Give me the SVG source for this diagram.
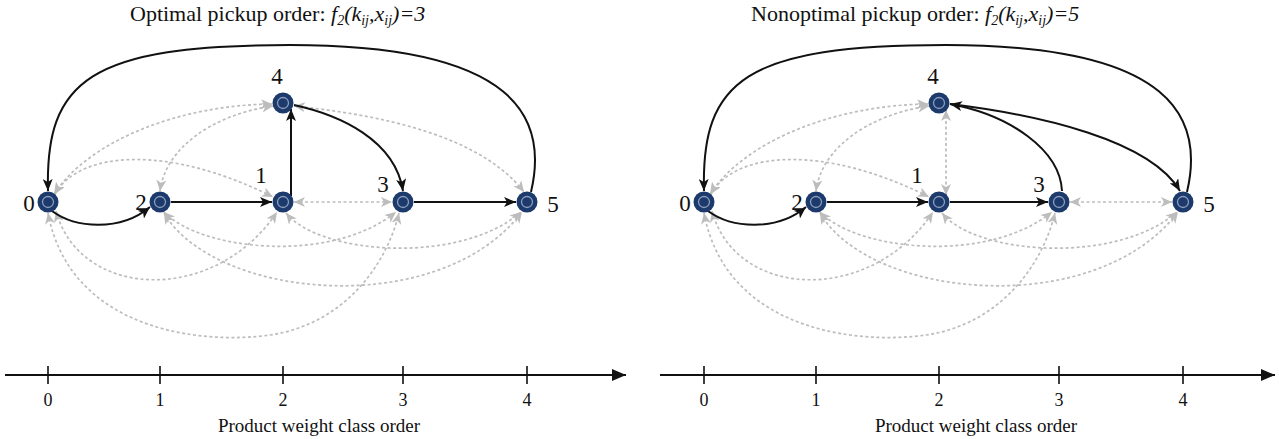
<svg xmlns="http://www.w3.org/2000/svg" width="1279" height="439" viewBox="0 0 1279 439">
<style>
text{font-family:"Liberation Serif","Times New Roman",serif;fill:#111}
.title{font-size:22px}
.it{font-style:italic}
.sb{font-size:14px;font-style:italic}
.lbl{font-size:23px;text-anchor:middle}
.tk{font-size:18px;text-anchor:middle}
.ax{font-size:19px;text-anchor:middle}
.node{fill:#1c3a6c}
.ring{fill:none;stroke:#8c9cbc;stroke-width:1.3}
.blk{fill:none;stroke:#111;stroke-width:2;marker-end:url(#ab)}
.gry{fill:none;stroke:#bdbdbd;stroke-width:1.7;stroke-dasharray:3 2.5;marker-start:url(#ag);marker-end:url(#ag)}
.axis{stroke:#111;stroke-width:2;fill:none}
.tick{stroke:#111;stroke-width:1.6}
</style>
<defs>
<marker id="ab" viewBox="0 0 12 10" refX="12" refY="5" markerWidth="12" markerHeight="10" markerUnits="userSpaceOnUse" orient="auto">
<path d="M0,0 L12,5 L0,10 L3,5 z" fill="#111"/>
</marker>
<marker id="ag" viewBox="0 0 11 10" refX="11" refY="5" markerWidth="11" markerHeight="10" markerUnits="userSpaceOnUse" orient="auto-start-reverse">
<path d="M0,0 L11,5 L0,10 L3,5 z" fill="#bdbdbd"/>
</marker>
<marker id="aa" viewBox="0 0 14 12" refX="14" refY="6" markerWidth="14" markerHeight="12" markerUnits="userSpaceOnUse" orient="auto">
<path d="M0,0 L14,6 L0,12 z" fill="#111"/>
</marker>
</defs>

<!-- titles -->
<text class="title" x="130" y="21">Optimal pickup order: <tspan class="it">f</tspan><tspan class="sb" dy="4">2</tspan><tspan class="it" dy="-4">(k</tspan><tspan class="sb" dy="4">ij</tspan><tspan class="it" dy="-4">,x</tspan><tspan class="sb" dy="4">ij</tspan><tspan class="it" dy="-4">)=3</tspan></text>
<text class="title" x="751" y="21">Nonoptimal pickup order: <tspan class="it">f</tspan><tspan class="sb" dy="4">2</tspan><tspan class="it" dy="-4">(k</tspan><tspan class="sb" dy="4">ij</tspan><tspan class="it" dy="-4">,x</tspan><tspan class="sb" dy="4">ij</tspan><tspan class="it" dy="-4">)=5</tspan></text>

<g id="connectors">
<!-- left grey -->
<path class="gry" d="M54,194 C90,140 180,105 272,104"/>
<path class="gry" d="M55,194 C80,150 170,145 273,197"/>
<path class="gry" d="M160,191 C165,150 210,115 273,106"/>
<path class="gry" d="M294,106 C380,115 480,135 524,192"/>
<path class="gry" d="M294,202 L392,202"/>
<path class="gry" d="M56,211 C80,300 215,305 277,212"/>
<path class="gry" d="M48,213 C70,330 200,345 270,335 C340,325 385,270 399,213"/>
<path class="gry" d="M164,212 C200,250 330,265 396,212"/>
<path class="gry" d="M164,213 C215,300 440,320 522,212"/>
<path class="gry" d="M286,213 C320,255 460,265 521,212"/>
<!-- left black -->
<path class="blk" d="M52,211 C75,228 120,232 150,207"/>
<path class="blk" d="M171,202 L272,202"/>
<path class="blk" d="M291,196 L291,109"/>
<path class="blk" d="M294,105 C340,115 395,140 403,191"/>
<path class="blk" d="M414,202 L516,202"/>
<path class="blk" d="M531,192 C548,120 520,45 290,45 C90,45 45,80 48,191"/>

<!-- right grey -->
<path class="gry" d="M710,194 C746,140 836,105 928,104"/>
<path class="gry" d="M711,194 C736,150 826,145 929,197"/>
<path class="gry" d="M816,191 C821,150 866,115 929,106"/>
<path class="gry" d="M946,110 L946,195"/>
<path class="gry" d="M1070,202 L1172,202"/>
<path class="gry" d="M712,211 C736,300 871,305 933,212"/>
<path class="gry" d="M704,213 C726,330 856,345 926,335 C996,325 1041,270 1055,213"/>
<path class="gry" d="M820,212 C856,250 986,265 1052,212"/>
<path class="gry" d="M820,213 C871,300 1096,320 1178,212"/>
<path class="gry" d="M942,213 C976,255 1116,265 1177,212"/>
<!-- right black -->
<path class="blk" d="M708,211 C731,228 776,232 806,207"/>
<path class="blk" d="M827,202 L928,202"/>
<path class="blk" d="M950,202 L1048,202"/>
<path class="blk" d="M1062,191 C1060,150 1010,115 950,104"/>
<path class="blk" d="M950,104 C1040,115 1150,140 1180,191"/>
<path class="blk" d="M1187,192 C1204,120 1176,45 946,45 C746,45 701,80 704,191"/>
</g>

<!-- left nodes -->
<g id="L0"><circle class="node" cx="48" cy="202" r="10.5"/><circle class="ring" cx="48" cy="202" r="5.5"/><text class="lbl" x="29" y="211">0</text></g>
<g id="L2"><circle class="node" cx="160" cy="202" r="10.5"/><circle class="ring" cx="160" cy="202" r="5.5"/><text class="lbl" x="141" y="210">2</text></g>
<g id="L1"><circle class="node" cx="283" cy="202" r="10.5"/><circle class="ring" cx="283" cy="202" r="5.5"/><text class="lbl" x="261" y="183">1</text></g>
<g id="L4"><circle class="node" cx="283" cy="103" r="10.5"/><circle class="ring" cx="283" cy="103" r="5.5"/><text class="lbl" x="277" y="84">4</text></g>
<g id="L3"><circle class="node" cx="403" cy="202" r="10.5"/><circle class="ring" cx="403" cy="202" r="5.5"/><text class="lbl" x="383" y="192">3</text></g>
<g id="L5"><circle class="node" cx="527" cy="202" r="10.5"/><circle class="ring" cx="527" cy="202" r="5.5"/><text class="lbl" x="553" y="212">5</text></g>

<!-- right nodes -->
<g id="R0"><circle class="node" cx="704" cy="202" r="10.5"/><circle class="ring" cx="704" cy="202" r="5.5"/><text class="lbl" x="685" y="211">0</text></g>
<g id="R2"><circle class="node" cx="816" cy="202" r="10.5"/><circle class="ring" cx="816" cy="202" r="5.5"/><text class="lbl" x="797" y="210">2</text></g>
<g id="R1"><circle class="node" cx="939" cy="202" r="10.5"/><circle class="ring" cx="939" cy="202" r="5.5"/><text class="lbl" x="917" y="183">1</text></g>
<g id="R4"><circle class="node" cx="939" cy="103" r="10.5"/><circle class="ring" cx="939" cy="103" r="5.5"/><text class="lbl" x="933" y="84">4</text></g>
<g id="R3"><circle class="node" cx="1059" cy="202" r="10.5"/><circle class="ring" cx="1059" cy="202" r="5.5"/><text class="lbl" x="1039" y="192">3</text></g>
<g id="R5"><circle class="node" cx="1183" cy="202" r="10.5"/><circle class="ring" cx="1183" cy="202" r="5.5"/><text class="lbl" x="1209" y="212">5</text></g>

<!-- left axis -->
<g id="axisL">
<path class="axis" d="M5,375 L626,375" marker-end="url(#aa)"/>
<path class="tick" d="M48,366 V384 M160,366 V384 M283,366 V384 M403,366 V384 M527,366 V384"/>
<text class="tk" x="48" y="406">0</text><text class="tk" x="160" y="406">1</text><text class="tk" x="283" y="406">2</text><text class="tk" x="403" y="406">3</text><text class="tk" x="527" y="406">4</text>
<text class="ax" x="319" y="432">Product weight class order</text>
</g>
<!-- right axis -->
<g id="axisR">
<path class="axis" d="M660,375 L1275,375" marker-end="url(#aa)"/>
<path class="tick" d="M704,366 V384 M816,366 V384 M939,366 V384 M1059,366 V384 M1183,366 V384"/>
<text class="tk" x="704" y="406">0</text><text class="tk" x="816" y="406">1</text><text class="tk" x="939" y="406">2</text><text class="tk" x="1059" y="406">3</text><text class="tk" x="1183" y="406">4</text>
<text class="ax" x="976" y="432">Product weight class order</text>
</g>
</svg>
